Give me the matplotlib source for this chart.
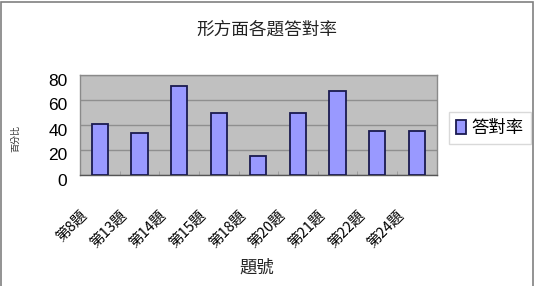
import matplotlib
matplotlib.use("Agg")
import matplotlib.pyplot as plt
from matplotlib.transforms import ScaledTranslation
from matplotlib.patches import Rectangle
import numpy as np

plt.rcParams['font.family'] = ['Noto Sans CJK TC', 'DejaVu Sans']

categories = ["第8題", "第13題", "第14題", "第15題", "第18題", "第20題", "第21題", "第22題", "第24題"]
values = [40.5, 33.5, 71, 49.5, 15, 49.5, 67, 35, 35]
yticks = [0, 20, 40, 60, 80]
series_name = "答對率"
title = "形方面各題答對率"
xlabel = "題號"
ylabel = "百分比"

W, H = 542, 286
fig = plt.figure(figsize=(W / 100, H / 100), dpi=100)
fig.patch.set_facecolor("white")

# figure frame
fig.add_artist(Rectangle((1 / W, -0.05), 532 / W, 1.05 - 1.5 / H, transform=fig.transFigure,
                         fill=False, edgecolor="#808080", lw=1.2))

ax = fig.add_axes([80 / W, 1 - 175 / H, (436.7 - 80) / W, 100 / H])
ax.set_facecolor("#c0c0c0")
x = np.arange(len(categories))
ax.bar(x, values, width=0.41, color="#9999ff", edgecolor="#1a1a50", linewidth=1.3, zorder=3,
       label=series_name)
ax.set_xlim(-0.5, len(categories) - 0.5)
ax.set_ylim(0, 80)
ax.set_yticks(yticks)
ax.set_yticklabels([str(v) for v in yticks], fontsize=12.5,
                   family=['Liberation Sans', 'DejaVu Sans'])
ax.yaxis.grid(True, color="#8f8f8f", lw=1, zorder=1)
ax.set_axisbelow(True)
for s in ax.spines.values():
    s.set_color("#8a8a8a")
    s.set_linewidth(1)
ax.spines['bottom'].set_color("#555555")

ax.set_xticks(x)
ax.set_xticklabels(categories, rotation=45, ha='right', va='top', fontsize=10.5)
ax.set_xticks(np.arange(len(categories) + 1) - 0.5, minor=True)
ax.tick_params(axis='x', which='major', length=0, pad=0)
ax.tick_params(axis='x', which='minor', length=3, direction='in', color="#999999")
ax.tick_params(axis='y', length=0, pad=9)

for lbl in ax.get_xticklabels():
    lbl.set_transform(lbl.get_transform() + ScaledTranslation(-0.10, -0.33, fig.dpi_scale_trans))
for lbl in ax.get_yticklabels():
    lbl.set_transform(lbl.get_transform() + ScaledTranslation(0, -0.045, fig.dpi_scale_trans))

fig.text(267 / W, 1 - 30 / H, title, ha='center', va='center', fontsize=12.7, color="#222222")
fig.text(257 / W, 1 - 268 / H, xlabel, ha='center', va='center', fontsize=12.5, color="#222222")
fig.text(16 / W, 1 - 138 / H, ylabel, ha='center', va='center', rotation=90, fontsize=6.5,
         color="#333333")

leg = ax.legend(loc='center left', bbox_to_anchor=((449 - 80) / (436.7 - 80), 0.47),
                frameon=True, fontsize=12.5, handlelength=0.6, handleheight=0.8,
                handletextpad=0.3, borderpad=0.4, borderaxespad=0, fancybox=False,
                bbox_transform=ax.transAxes)
leg.get_frame().set_edgecolor("#d0d0d0")
leg.get_frame().set_linewidth(1)

fig.savefig("out.png", dpi=100, facecolor="white")
